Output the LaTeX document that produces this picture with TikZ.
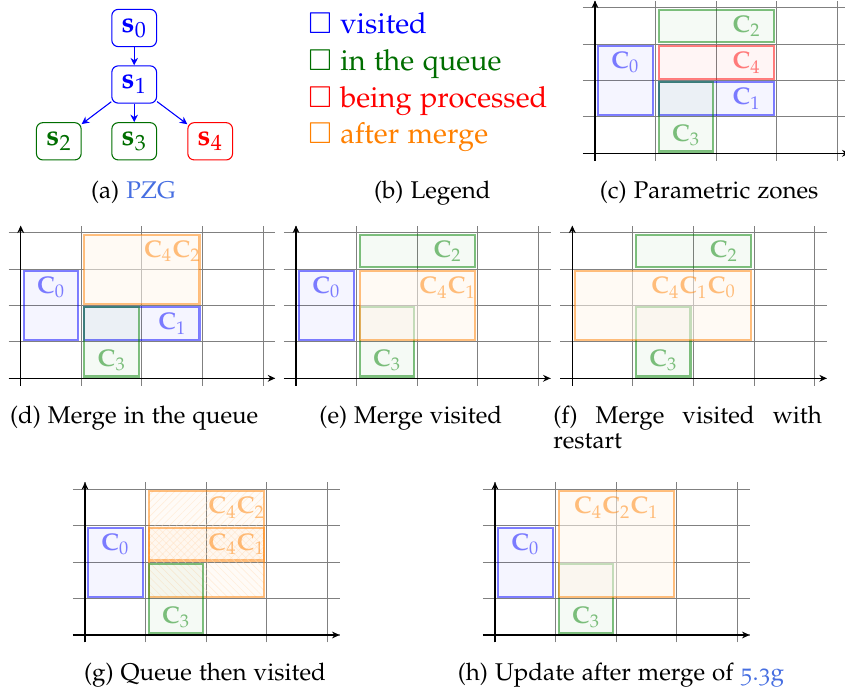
\documentclass[tikz,border=0pt]{standalone}
\usepackage[T1]{fontenc}
\usepackage{amssymb}
\usepackage[osf]{mathpazo}
\usetikzlibrary{arrows.meta,patterns.meta}

\definecolor{qgreen}{RGB}{0,110,0}
\definecolor{zgreen}{RGB}{0,128,0}
\definecolor{linkblue}{RGB}{70,110,225}
\newcommand\capfont{\fontsize{11.35}{11.6}\selectfont}
\newcommand\bigfont{\fontsize{13.6}{16}\selectfont}
\newcommand\zonegrid{%
  \draw[gridline] (-0.2,-0.2) grid[step=1] (4.2,4.2);
  \draw[axisline] (-0.2,0) -- (4.2,0);
  \draw[axisline] (0,-0.2) -- (0,4.2);
}

\tikzset{
 pzgnode/.style={rectangle, rounded corners=3pt, draw, line width=0.5pt, fill=white,
   minimum width=21pt, minimum height=17.5pt, inner sep=1pt, font=\bigfont},
 pzgarrow/.style={draw=blue, line width=0.5pt, -{Stealth[length=3.5pt,width=3.5pt]}},
 capnode/.style={anchor=base, inner sep=0pt, font=\capfont},
 legnode/.style={anchor=base west, inner sep=0pt, font=\bigfont},
 gridline/.style={draw=black!50, line width=0.5pt},
 axisline/.style={draw=black, line width=0.6pt, -{Stealth[length=3.5pt,width=3.2pt]}},
 zone/.style={line width=1pt, draw opacity=0.5, fill opacity=0.04},
 zblue/.style={zone, draw=blue, fill=blue},
 zgreen/.style={zone, draw=zgreen, fill=zgreen},
 zred/.style={zone, draw=red, fill=red},
 zmerge/.style={line width=1pt, draw=orange, draw opacity=0.5, fill=orange!8, fill opacity=0.55},
 zhatch/.style={line width=1pt, draw=orange, draw opacity=0.5,
   preaction={fill=orange, fill opacity=0.03}},
 zlabel/.style={inner sep=0pt, text opacity=0.5, font=\capfont},
}

\begin{document}
\begin{tikzpicture}[x=0.46952pt,y=-0.46952pt]
\useasboundingbox (0,0) rectangle (845,695);

% ---------- (a) PZG ----------
\node[pzgnode, draw=blue, text=blue] (s0) at (134.2,28) {$\mathbf{s}_0$};
\node[pzgnode, draw=blue, text=blue] (s1) at (134.2,84.5) {$\mathbf{s}_1$};
\node[pzgnode, draw=qgreen, text=qgreen] (s2) at (58.8,141.3) {$\mathbf{s}_2$};
\node[pzgnode, draw=qgreen, text=qgreen] (s3) at (134.2,141.3) {$\mathbf{s}_3$};
\node[pzgnode, draw=red, text=red] (s4) at (210.2,141.3) {$\mathbf{s}_4$};
\draw[pzgarrow] (s0) -- (s1);
\draw[pzgarrow] (s1) -- (s2);
\draw[pzgarrow] (s1) -- (s3);
\draw[pzgarrow] (s1) -- (s4);
\node[capnode] (capa) at (133.3,198.5) {(a) \textcolor{linkblue}{PZG}};

% ---------- (b) Legend ----------
\node[legnode, text=blue] (legv) at (308,34) {$\square$ visited};
\node[legnode, text=qgreen] (legq) at (308,70.6) {$\square$ in the queue};
\node[legnode, text=red] (legp) at (308,107.2) {$\square$ being processed};
\node[legnode, text=orange] (legm) at (308,143.8) {$\square$ after merge};
\node[capnode] (capb) at (432.4,198.5) {(b) Legend};

% ---------- (c) Parametric zones ----------
\begin{scope}[shift={(595,153.3)}, x=1cm, y=0.6cm]
\zonegrid
\path[zblue] (0.05,1.05) rectangle (0.95,2.95);
\path[zgreen] (1.05,3.05) rectangle (2.95,3.95);
\path[zred] (1.05,2.05) rectangle (2.95,2.95);
\path[zblue] (1.05,1.05) rectangle (2.95,1.95);
\path[zgreen] (1.05,0.05) rectangle (1.95,1.95);
\node[zlabel, text=blue] (c-c0) at (0.5,2.5) {$\mathbf{C}_0$};
\node[zlabel, text=zgreen] (c-c2) at (2.5,3.5) {$\mathbf{C}_2$};
\node[zlabel, text=red] (c-c4) at (2.5,2.5) {$\mathbf{C}_4$};
\node[zlabel, text=blue] (c-c1) at (2.5,1.5) {$\mathbf{C}_1$};
\node[zlabel, text=zgreen] (c-c3) at (1.5,0.5) {$\mathbf{C}_3$};
\end{scope}
\node[capnode] (capc) at (709.2,198.5) {(c) Parametric zones};

% ---------- (d) Merge in the queue ----------
\begin{scope}[shift={(20.7,378.3)}, x=1cm, y=0.6cm]
\zonegrid
\path[zblue] (0.05,1.05) rectangle (0.95,2.95);
\path[zmerge] (1.05,2.05) rectangle (2.95,3.95);
\path[zblue] (1.05,1.05) rectangle (2.95,1.95);
\path[zgreen] (1.05,0.05) rectangle (1.95,1.95);
\node[zlabel, text=blue] (d-c0) at (0.5,2.5) {$\mathbf{C}_0$};
\node[zlabel, text=orange] (d-c42) at (2.5,3.5) {$\mathbf{C}_4\mathbf{C}_2$};
\node[zlabel, text=blue] (d-c1) at (2.5,1.5) {$\mathbf{C}_1$};
\node[zlabel, text=zgreen] (d-c3) at (1.5,0.5) {$\mathbf{C}_3$};
\end{scope}
\node[capnode] (capd) at (134.2,423.5) {(d) Merge in the queue};

% ---------- (e) Merge visited ----------
\begin{scope}[shift={(296,378.3)}, x=1cm, y=0.6cm]
\zonegrid
\path[zblue] (0.05,1.05) rectangle (0.95,2.95);
\path[zgreen] (1.05,3.05) rectangle (2.95,3.95);
\path[zgreen] (1.05,0.05) rectangle (1.95,1.95);
\path[zmerge] (1.05,1.05) rectangle (2.95,2.95);
\node[zlabel, text=blue] (e-c0) at (0.5,2.5) {$\mathbf{C}_0$};
\node[zlabel, text=zgreen] (e-c2) at (2.5,3.5) {$\mathbf{C}_2$};
\node[zlabel, text=orange] (e-c41) at (2.5,2.5) {$\mathbf{C}_4\mathbf{C}_1$};
\node[zlabel, text=zgreen] (e-c3) at (1.5,0.5) {$\mathbf{C}_3$};
\end{scope}
\node[capnode] (cape) at (410.8,423.5) {(e) Merge visited};

% ---------- (f) Merge visited with restart ----------
\begin{scope}[shift={(572.3,378.3)}, x=1cm, y=0.6cm]
\zonegrid
\path[zgreen] (1.05,3.05) rectangle (2.95,3.95);
\path[zgreen] (1.05,0.05) rectangle (1.95,1.95);
\path[zmerge] (0.05,1.05) rectangle (2.95,2.95);
\node[zlabel, text=zgreen] (f-c2) at (2.5,3.5) {$\mathbf{C}_2$};
\node[zlabel, text=orange] (f-c410) at (2,2.5) {$\mathbf{C}_4\mathbf{C}_1\mathbf{C}_0$};
\node[zlabel, text=zgreen] (f-c3) at (1.5,0.5) {$\mathbf{C}_3$};
\end{scope}
\node[anchor=base west, inner sep=0pt, font=\capfont] (capf) at (553,423.5)
  {\begin{tabular}[t]{@{}l@{}}\makebox[126.07pt][s]{(f) Merge visited with}\\ restart\end{tabular}};

% ---------- (g) Queue then visited ----------
\begin{scope}[shift={(85,635)}, x=1cm, y=0.6cm]
\zonegrid
\path[zblue] (0.05,1.05) rectangle (0.95,2.95);
\path[zhatch, pattern={Lines[angle=45,distance=2.4pt,line width=0.3pt]}, pattern color=orange!25]
  (1.05,2.05) rectangle (2.95,3.95);
\path[zhatch, pattern={Lines[angle=-45,distance=2.4pt,line width=0.3pt]}, pattern color=orange!25]
  (1.05,1.05) rectangle (2.95,2.95);
\path[zgreen] (1.05,0.05) rectangle (1.95,1.95);
\node[zlabel, text=blue] (g-c0) at (0.5,2.5) {$\mathbf{C}_0$};
\node[zlabel, text=orange] (g-c42) at (2.5,3.5) {$\mathbf{C}_4\mathbf{C}_2$};
\node[zlabel, text=orange] (g-c41) at (2.5,2.5) {$\mathbf{C}_4\mathbf{C}_1$};
\node[zlabel, text=zgreen] (g-c3) at (1.5,0.5) {$\mathbf{C}_3$};
\end{scope}
\node[capnode] (capg) at (205,680.5) {(g) Queue then visited};

% ---------- (h) Update after merge ----------
\begin{scope}[shift={(495,635)}, x=1cm, y=0.6cm]
\zonegrid
\path[zblue] (0.05,1.05) rectangle (0.95,2.95);
\path[zgreen] (1.05,0.05) rectangle (1.95,1.95);
\path[zmerge] (1.05,1.05) rectangle (2.95,3.95);
\node[zlabel, text=blue] (h-c0) at (0.5,2.5) {$\mathbf{C}_0$};
\node[zlabel, text=orange] (h-c421) at (2,3.5) {$\mathbf{C}_4\mathbf{C}_2\mathbf{C}_1$};
\node[zlabel, text=zgreen] (h-c3) at (1.5,0.5) {$\mathbf{C}_3$};
\end{scope}
\node[capnode] (caph) at (621,680.5) {(h) Update after merge of \textcolor{linkblue}{5.3g}};

\end{tikzpicture}
\end{document}
